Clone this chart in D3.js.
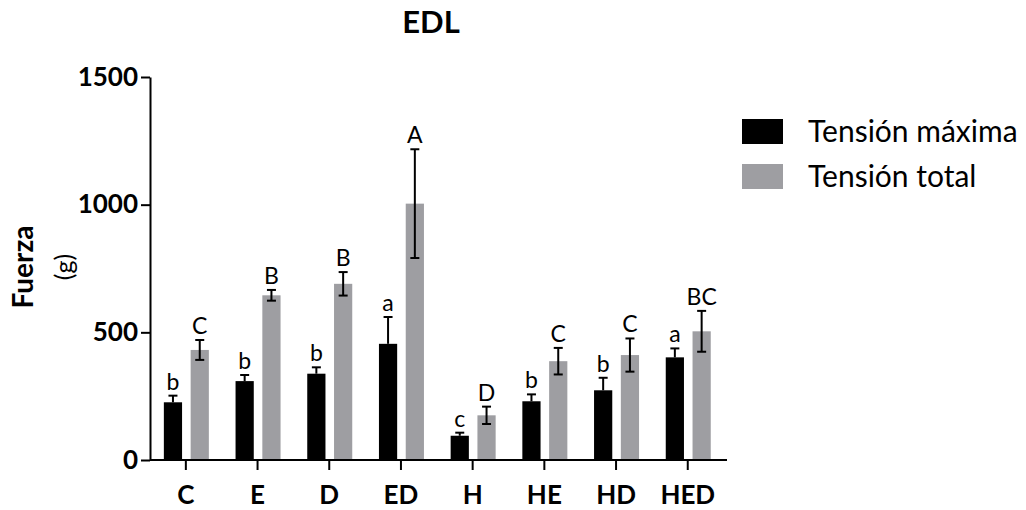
<!DOCTYPE html>
<html>
<head>
<meta charset="utf-8">
<script src="https://cdn.jsdelivr.net/npm/d3@7"></script>
<style>
  html, body { margin: 0; padding: 0; background: #fff; }
  svg { display: block; font-family: Lato, "Open Sans", sans-serif; }
</style>
</head>
<body>
<svg id="chart" width="1026" height="510"></svg>
<script>
// Groups and series
const categories = ["C", "E", "D", "ED", "H", "HE", "HD", "HED"];
const seriesNames = ["Tensión máxima", "Tensión total"];

// Tensión máxima: mean, SEM (upper bar only) and significance letter
const maxMean   = [226, 309, 338, 455, 95, 230, 273, 402];
const maxErr    = [26, 24, 25, 105, 12, 27, 49, 35];
const maxLetter = ["b", "b", "b", "a", "c", "b", "b", "a"];

// Tensión total: mean, SEM (both directions) and significance letter
const totMean   = [431, 645, 690, 1004, 175, 387, 411, 504];
const totErr    = [39, 21, 46, 213, 34, 52, 65, 80];
const totLetter = ["C", "B", "B", "A", "D", "C", "C", "BC"];

const yTicks = [0, 500, 1000, 1500];

const colors = ["#000000", "#9e9ea2"];

const svg = d3.select("#chart");

const x0 = d3.scaleBand().domain(categories).range([150, 723.6]).paddingInner(0).paddingOuter(0);
const x1 = d3.scaleBand().domain(seriesNames).range([-22, 23]).paddingInner(0.32).paddingOuter(0);
const y = d3.scaleLinear().domain([0, 1500]).range([460, 77]);

const rows = categories.map((c, i) => ([
  { cat: c, s: seriesNames[0], v: maxMean[i], lo: maxMean[i], hi: maxMean[i] + maxErr[i], label: maxLetter[i] },
  { cat: c, s: seriesNames[1], v: totMean[i], lo: totMean[i] - totErr[i], hi: totMean[i] + totErr[i], label: totLetter[i] }
])).flat();

const cx = d => x0(d.cat) + x0.bandwidth() / 2 + x1(d.s) + x1.bandwidth() / 2;

// bars
svg.append("g").selectAll("rect").data(rows).join("rect")
  .attr("x", d => x0(d.cat) + x0.bandwidth() / 2 + x1(d.s))
  .attr("width", x1.bandwidth())
  .attr("y", d => y(d.v))
  .attr("height", d => y(0) - y(d.v))
  .attr("fill", d => colors[seriesNames.indexOf(d.s)]);

// error bars
const eb = svg.append("g").attr("stroke", "#000").attr("stroke-width", 2).attr("fill", "none");
rows.forEach(d => {
  eb.append("line").attr("x1", cx(d)).attr("x2", cx(d)).attr("y1", y(d.lo)).attr("y2", y(d.hi));
  eb.append("line").attr("x1", cx(d) - 4.5).attr("x2", cx(d) + 4.5).attr("y1", y(d.hi)).attr("y2", y(d.hi));
  if (d.lo < d.v) {
    eb.append("line").attr("x1", cx(d) - 4.5).attr("x2", cx(d) + 4.5).attr("y1", y(d.lo)).attr("y2", y(d.lo));
  }
});

// significance letters
svg.append("g").selectAll("text").data(rows).join("text")
  .attr("x", d => cx(d))
  .attr("y", d => y(d.hi) - 6)
  .attr("text-anchor", "middle")
  .attr("font-size", 23)
  .attr("fill", "#000")
  .text(d => d.label);

// axes
const yAxis = svg.append("g").attr("transform", "translate(150,0)")
  .call(d3.axisLeft(y).tickValues(yTicks).tickFormat(d3.format("d"))
    .tickSize(9).tickSizeOuter(0).tickPadding(3));
const xAxis = svg.append("g").attr("transform", "translate(0,460)")
  .call(d3.axisBottom(x0).tickSize(10).tickSizeOuter(0).tickPadding(16));

[yAxis, xAxis].forEach(a => {
  a.select(".domain").attr("stroke", "#000").attr("stroke-width", 2);
  a.selectAll(".tick line").attr("stroke", "#000").attr("stroke-width", 2);
  a.selectAll(".tick text").attr("fill", "#000").attr("font-weight", "bold")
    .attr("font-size", 26).attr("font-family", "Lato, sans-serif");
});
xAxis.select(".domain").attr("d", "M150,0H727");
xAxis.selectAll(".tick text").attr("dy", "0.71em");

// title
svg.append("text").attr("x", 431).attr("y", 33).attr("text-anchor", "middle")
  .attr("font-size", 31).attr("font-weight", "bold").text("EDL");

// y axis title
svg.append("text").attr("transform", "translate(33,267) rotate(-90)")
  .attr("text-anchor", "middle").attr("font-size", 28).attr("font-weight", "bold").text("Fuerza");
svg.append("text").attr("transform", "translate(73,267) rotate(-90)")
  .attr("text-anchor", "middle").attr("font-size", 25).text("(g)");

// legend
const lg = svg.append("g");
seriesNames.forEach((s, i) => {
  lg.append("rect").attr("x", 742).attr("y", 119 + i * 45).attr("width", 41).attr("height", 25).attr("fill", colors[i]);
  lg.append("text").attr("x", 808).attr("y", 142 + i * 45).attr("font-size", 30).text(s);
});
</script>
</body>
</html>
